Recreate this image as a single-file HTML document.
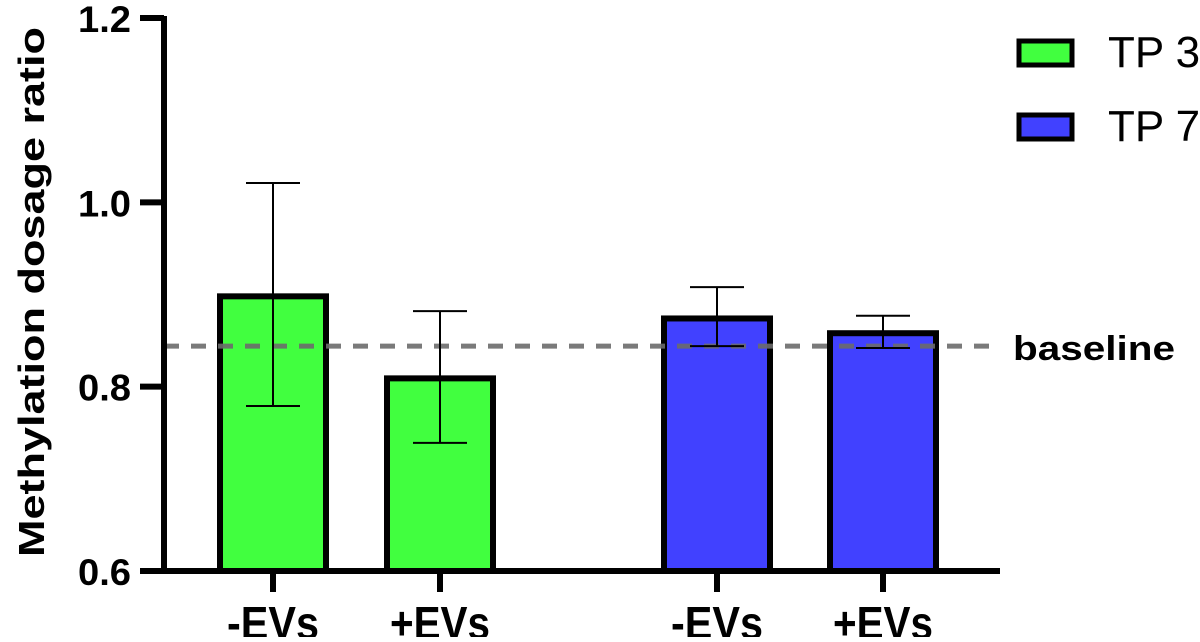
<!DOCTYPE html>
<html><head><meta charset="utf-8"><style>
body{margin:0;background:#fff;width:1200px;height:637px;overflow:hidden;font-family:"Liberation Sans",sans-serif}
</style></head><body>
<svg id="chart" width="1200" height="637" xmlns="http://www.w3.org/2000/svg"></svg>
<script>
const categories=["-EVs","+EVs","-EVs","+EVs"];
const groups=["TP 3","TP 3","TP 7","TP 7"];
const values=[0.898,0.809,0.874,0.858];
const errHigh=[1.021,0.882,0.908,0.877];
const errLow=[0.779,0.739,0.844,0.842];
const yTicks=[0.6,0.8,1.0,1.2];
const yTickLabels=["0.6","0.8","1.0","1.2"];
const baselineValue=0.844;
const legendLabels=["TP 3","TP 7"];
const colors={"TP 3":"#41ff3f","TP 7":"#4141ff"};
const centers=[273,440,717,883];
const NS="http://www.w3.org/2000/svg";
const svg=document.getElementById('chart');
const y0=571,y1=18,vmin=0.6,vmax=1.2;
function y(v){return y0-(v-vmin)/(vmax-vmin)*(y0-y1);}
function mk(t,a,p){const e=document.createElementNS(NS,t);for(const k in a)e.setAttribute(k,a[k]);(p||svg).appendChild(e);return e;}
const bw=106;
values.forEach((v,i)=>{
 const cx=centers[i];
 const r=mk('rect',{x:cx-bw/2,y:y(v),width:bw,height:y0-y(v),fill:colors[groups[i]],stroke:'#000','stroke-width':6});
 
 
});
const bl=mk('line',{x1:164,x2:1000,y1:y(baselineValue),y2:y(baselineValue),stroke:'#6b6b6b','stroke-opacity':0.9,'stroke-width':5,'stroke-dasharray':'15 12'});


const bt=mk('text',{x:1013,y:360,'font-size':34,'font-weight':'bold',fill:'#000',textLength:162,lengthAdjust:'spacingAndGlyphs'});bt.textContent='baseline';


values.forEach((v,i)=>{
 const cx=centers[i];
 const g=mk('g',{stroke:'#000','stroke-width':2});
 
 
 mk('line',{x1:cx,x2:cx,y1:y(errHigh[i]),y2:y(errLow[i])},g);
 mk('line',{x1:cx-27,x2:cx+27,y1:y(errHigh[i]),y2:y(errHigh[i])},g);
 mk('line',{x1:cx-27,x2:cx+27,y1:y(errLow[i]),y2:y(errLow[i])},g);
});
const ya=mk('line',{x1:164,x2:164,y1:16,y2:574,stroke:'#000','stroke-width':6});


const xa=mk('line',{x1:140,x2:1000,y1:571,y2:571,stroke:'#000','stroke-width':6});


yTicks.forEach((t,i)=>{
 mk('line',{x1:140,x2:164,y1:y(t),y2:y(t),stroke:'#000','stroke-width':6});
 const tx=mk('text',{x:78,y:y(t)+14,'font-size':37,'font-weight':'bold',textLength:53,lengthAdjust:'spacingAndGlyphs'});tx.textContent=yTickLabels[i];
 
 
});
categories.forEach((c,i)=>{
 mk('line',{x1:centers[i],x2:centers[i],y1:571,y2:592,stroke:'#000','stroke-width':6});
 const w=c[0]=='-'?92:100;
 const tx=mk('text',{x:centers[i]-w/2-(c[0]=='-'?0:0),y:639,'font-size':46,'font-weight':'bold',textLength:w,lengthAdjust:'spacingAndGlyphs'});tx.textContent=c;
 
 
});
const yt=mk('text',{x:0,y:0,'font-size':36,'font-weight':'bold','text-anchor':'middle',textLength:530,lengthAdjust:'spacingAndGlyphs',transform:'translate(44,292) rotate(-90)'});yt.textContent='Methylation dosage ratio';


legendLabels.forEach((l,i)=>{
 const g=mk('g',{});
 
 
 mk('rect',{x:1019,y:41+i*74,width:53,height:24,fill:colors[l],stroke:'#000','stroke-width':5},g);
 const tx=mk('text',{x:1108,y:67+i*74,'font-size':44},g);tx.textContent=l;
});
</script>
</body></html>
